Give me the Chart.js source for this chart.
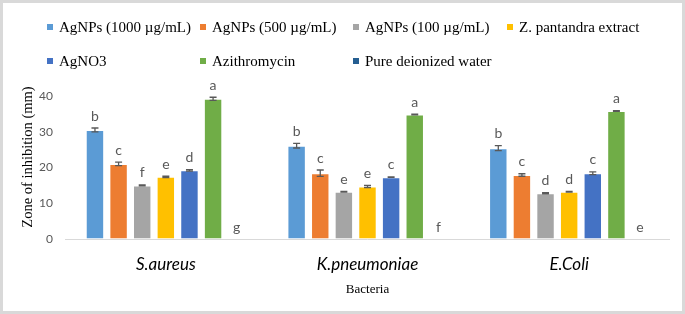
<!DOCTYPE html>
<html>
<head>
<meta charset="utf-8">
<script src="https://cdn.jsdelivr.net/npm/chart.js@4"></script>
<style>
  html, body { margin: 0; padding: 0; background: #fff; }
  #wrap { width: 685px; height: 314px; }
</style>
</head>
<body>
<div id="wrap"><canvas id="chart" width="685" height="314"></canvas></div>
<script>
/* Zone of inhibition by bacteria, Excel-style clustered bars */
const categories = ['S.aureus', 'K.pneumoniae', 'E.Coli'];
const seriesNames = [
  'AgNPs (1000 µg/mL)', 'AgNPs (500 µg/mL)', 'AgNPs (100 µg/mL)',
  'Z. pantandra extract', 'AgNO3', 'Azithromycin', 'Pure deionized water'
];

// one array per series, values across categories
const agnp1000 = [30.5, 26.1, 25.4];
const agnp500 = [21.0, 18.4, 17.9];
const agnp100 = [15.0, 13.2, 12.8];
const extract = [17.4, 14.7, 13.2];
const agno3 = [19.2, 17.3, 18.4];
const azithro = [39.2, 34.8, 35.8];
const water = [0, 0, 0];

const err1000 = [0.55, 0.65, 0.7];
const err500 = [0.5, 0.9, 0.35];
const err100 = [0.15, 0.1, 0.15];
const errExtract = [0.2, 0.3, 0.1];
const errAgno3 = [0.2, 0.05, 0.4];
const errAzithro = [0.45, 0.1, 0.1];
const errWater = [0, 0, 0];

const let1000 = ['b', 'b', 'b'];
const let500 = ['c', 'c', 'c'];
const let100 = ['f', 'e', 'd'];
const letExtract = ['e', 'e', 'd'];
const letAgno3 = ['d', 'c', 'c'];
const letAzithro = ['a', 'a', 'a'];
const letWater = ['g', 'f', 'e'];

const yTicks = [0, 10, 20, 30, 40];
const yTitle = 'Zone of inhibition (mm)';
const xTitle = 'Bacteria';

const seriesValues = [agnp1000, agnp500, agnp100, extract, agno3, azithro, water];
const seriesErrors = [err1000, err500, err100, errExtract, errAgno3, errAzithro, errWater];
const seriesLetters = [let1000, let500, let100, letExtract, letAgno3, letAzithro, letWater];

const COLORS = ['#5B9BD5', '#ED7D31', '#A5A5A5', '#FFC000', '#4472C4', '#70AD47', '#255E91'];
const SANS = 'Lato, "Open Sans", sans-serif';
const SERIF = '"Liberation Serif", "Times New Roman", serif';
const GREY = '#595959';

const frame = {
  id: 'frame',
  beforeDraw(chart) {
    const c = chart.ctx;
    c.save();
    c.fillStyle = '#fff';
    c.fillRect(0, 0, chart.width, chart.height);
    c.strokeStyle = '#d9d9d9';
    c.lineWidth = 3;
    c.strokeRect(1.5, 1.5, chart.width - 3, chart.height - 3);
    c.restore();
  }
};

// legend laid out on a fixed 4-column grid, plus the y title (sits above centre in the original)
const gridLegend = {
  id: 'gridLegend',
  afterDraw(chart) {
    const c = chart.ctx;
    const cols = [47, 200, 353, 507];
    const rows = [27, 61];
    c.save();
    c.font = '15px ' + SERIF;
    c.textBaseline = 'middle';
    chart.data.datasets.forEach(function (ds, i) {
      const x = cols[i % 4];
      const y = rows[Math.floor(i / 4)];
      c.fillStyle = ds.backgroundColor;
      c.fillRect(x, y - 3, 6, 6);
      c.fillStyle = '#000';
      c.fillText(ds.label, x + 12, y + 1);
    });
    c.translate(28, 157);
    c.rotate(-Math.PI / 2);
    c.font = '14.5px ' + SERIF;
    c.textAlign = 'center';
    c.fillText(yTitle, 0, 0);
    c.restore();
  }
};

const errorBars = {
  id: 'errorBars',
  afterDatasetsDraw(chart) {
    const c = chart.ctx;
    const y = chart.scales.y;
    c.save();
    chart.data.datasets.forEach(function (ds, i) {
      const meta = chart.getDatasetMeta(i);
      meta.data.forEach(function (bar, j) {
        const v = ds.data[j];
        const e = ds.errors[j];
        const top = y.getPixelForValue(v + e);
        if (e > 0) {
          const bot = y.getPixelForValue(v - e);
          c.strokeStyle = GREY;
          c.lineWidth = 1.3;
          c.beginPath();
          c.moveTo(bar.x, top); c.lineTo(bar.x, bot);
          c.moveTo(bar.x - 3.5, top); c.lineTo(bar.x + 3.5, top);
          c.moveTo(bar.x - 3.5, bot); c.lineTo(bar.x + 3.5, bot);
          c.stroke();
        }
        c.fillStyle = GREY;
        c.font = '14px ' + SANS;
        c.textAlign = 'center';
        c.textBaseline = 'bottom';
        c.fillText(ds.letters[j], bar.x, top - 5);
      });
    });
    c.restore();
  }
};

new Chart(document.getElementById('chart'), {
  type: 'bar',
  data: {
    labels: categories,
    datasets: seriesNames.map(function (name, i) {
      return {
        label: name,
        data: seriesValues[i],
        errors: seriesErrors[i],
        letters: seriesLetters[i],
        backgroundColor: COLORS[i],
        borderColor: 'rgba(255,255,255,0.45)',
        borderWidth: 1,
        categoryPercentage: 0.82,
        barPercentage: 0.78
      };
    })
  },
  options: {
    responsive: false,
    animation: false,
    devicePixelRatio: 1,
    layout: { padding: { top: 96, right: 15, left: 0, bottom: 0 } },
    plugins: { legend: { display: false }, tooltip: { enabled: false } },
    scales: {
      x: {
        grid: { display: false },
        border: { display: false },
        ticks: { color: '#000', padding: 7, font: { family: SANS, size: 17, style: 'italic' } },
        title: { display: true, text: xTitle, color: '#000', font: { family: SERIF, size: 13 }, padding: { top: 0, bottom: 17 } },
        afterFit(s) { s.height = 75; }
      },
      y: {
        min: 0,
        max: 40,
        afterBuildTicks(s) { s.ticks = yTicks.map(v => ({ value: v })); },
        grid: {
          drawTicks: false,
          color: ctx => (ctx.tick && ctx.tick.value === 0 ? '#d9d9d9' : 'rgba(0,0,0,0)')
        },
        border: { display: false },
        ticks: { color: GREY, padding: 12, font: { family: SANS, size: 12 } },
        afterFit(s) { s.width = 65; }
      }
    }
  },
  plugins: [frame, gridLegend, errorBars]
});
</script>
</body>
</html>
